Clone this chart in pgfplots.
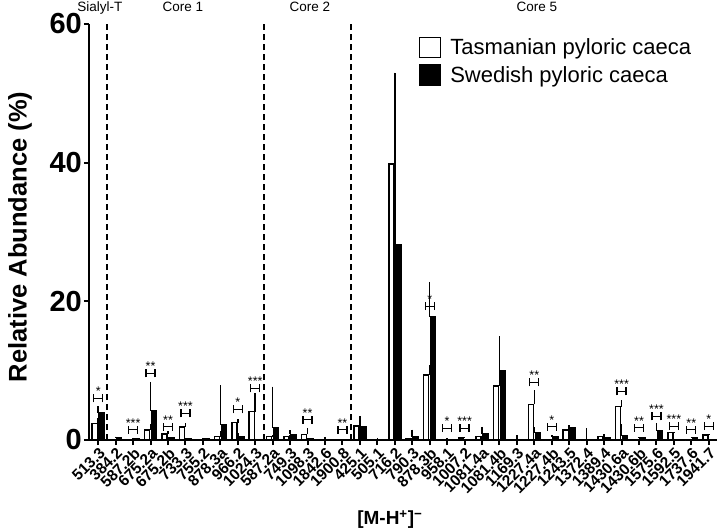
\documentclass[border=0pt]{standalone}
\usepackage{fontspec}
\setmainfont{Liberation Sans}
\usepackage{pgfplots}
\pgfplotsset{compat=1.18}
\usepackage{pgfplotstable}

% x = category, w/we = Tasmanian mean/sd, b/be = Swedish mean/sd
\pgfplotstableread{
x w we b be
1 2.4 0.8 3.9 1.0
2 0.1 0.1 0.3 0.2
3 0.05 0 0.2 0.1
4 1.45 0.9 4.2 4.2
5 0.9 0.4 0.3 0.1
6 1.9 0.6 0.2 0.1
7 0.1 0.1 0.2 0.1
8 0.5 0.8 2.2 5.7
9 2.5 0.6 0.5 0.5
10 4.1 2.7 0.1 0.1
11 0.5 0.2 1.8 5.9
12 0.5 0.2 0.8 0.6
13 0.8 1.0 0.2 0.1
14 0 0 0.05 0.4
15 0.05 0 0.05 0
16 2.0 0.3 1.9 1.5
17 0.05 0 0.1 0.2
18 39.8 11.7 28.2 24.8
19 0.2 0.1 0.5 1.0
20 9.4 1.4 17.8 5.0
21 0.1 0.2 0 0
22 0.3 0.1 0 0
23 0.5 0.1 0.9 1.0
24 7.8 4.3 10.0 5.0
25 0.05 0.6 0.05 0.6
26 5.15 2.1 1.05 0.8
27 0 0 0.5 0.2
28 1.45 0.7 1.8 0.2
29 0 0.3 0.1 1.6
30 0.5 0.4 0.3 0.1
31 4.8 1.0 0.6 1.7
32 0 0 0.3 0.1
33 0 0 1.35 1.1
34 1.05 0.1 0.1 0
35 0 0 0.3 0.1
36 0.7 0.2 0 0
}\glycans

% significance bracket: category, height, stars
\newcommand{\sig}[3]{%
  \draw[line width=1.2pt]
    ([xshift=-4.5pt]axis cs:#1,#2) -- ([xshift=4.5pt]axis cs:#1,#2)
    ([xshift=-4.5pt,yshift=-4pt]axis cs:#1,#2) -- ([xshift=-4.5pt,yshift=4pt]axis cs:#1,#2)
    ([xshift=4.5pt,yshift=-4pt]axis cs:#1,#2) -- ([xshift=4.5pt,yshift=4pt]axis cs:#1,#2);
  \node[anchor=base, inner sep=0pt, yshift=2.5pt, font=\fontsize{12.5}{12.5}\selectfont] at (axis cs:#1,#2) {#3};
}

\begin{document}
\begin{tikzpicture}
\begin{axis}[
  scale only axis,
  width=628pt, height=416pt,
  xmin=0.47, xmax=36.47,
  ymin=0, ymax=60,
  ytick={0,20,40,60},
  xtick={1,...,36},
  xticklabels={513.3,384.2,587.2b,675.2a,675.2b,733.3,755.2,878.3a,966.2,1024.3,587.2a,749.3,1098.3,1842.6,1900.8,425.1,505.1,716.2,790.3,878.3b,958.1,1007.2,1081.4a,1081.4b,1169.3,1227.4a,1227.4b,1243.5,1372.4,1389.4,1430.6a,1430.6b,1575.6,1592.5,1737.6,1941.7},
  axis x line*=bottom, axis y line*=left,
  axis line style={line width=2.4pt},
  tick style={line width=2pt, black},
  major tick length=5pt,
  tick align=outside,
  /pgf/number format/assume math mode=true,
  yticklabel style={font=\bfseries\fontsize{29}{29}\selectfont, inner sep=2pt},
  xticklabel style={rotate=45, anchor=north east, inner sep=1pt, font=\bfseries\fontsize{15.5}{15.5}\selectfont},
  ylabel={Relative Abundance (\%)},
  ylabel style={font=\bfseries\fontsize{25.5}{25.5}\selectfont, at={(axis description cs:-0.11,0.488)}, anchor=center},
  xlabel={[M-H\textsuperscript{+}]\textsuperscript{−}},
  xlabel style={font=\bfseries\fontsize{19}{19}\selectfont, at={(axis description cs:0.479,-0.192)}, anchor=center},
  legend style={at={(0.52,0.975)}, anchor=north west, draw=none, fill=none,
    font=\fontsize{22}{26}\selectfont, row sep=6pt,
    nodes={inner xsep=9pt}},
  legend cell align=left,
  clip=false,
]
\addplot[ybar, bar width=0.29, bar shift=-0.2, fill=white, draw=black, line width=1.5pt,
  legend image code/.code={\draw[fill=white, draw=black, line width=1.5pt] (0pt,-10pt) rectangle (21pt,10pt);},
  error bars/.cd, y dir=plus, y explicit, error mark=none, error bar style={line width=1.6pt}]
  table[x=x, y=w, y error=we] {\glycans};
\addlegendentry{Tasmanian pyloric caeca}
\addplot[ybar, bar width=0.29, bar shift=0.2, fill=black, draw=black, line width=1.5pt,
  legend image code/.code={\draw[fill=black, draw=black, line width=1.5pt] (0pt,-10pt) rectangle (21pt,10pt);},
  error bars/.cd, y dir=plus, y explicit, error mark=none, error bar style={line width=1.6pt}]
  table[x=x, y=b, y error=be] {\glycans};
\addlegendentry{Swedish pyloric caeca}

\draw[line width=2.2pt, dash pattern=on 6pt off 4pt] (axis cs:1.5,0) -- (axis cs:1.5,60);
\draw[line width=2.2pt, dash pattern=on 6pt off 4pt] (axis cs:10.5,0) -- (axis cs:10.5,60);
\draw[line width=2.2pt, dash pattern=on 6pt off 4pt] (axis cs:15.5,0) -- (axis cs:15.5,60);

\node[anchor=base, font=\fontsize{13.5}{13.5}\selectfont] at (axis cs:1.1,61.8) {Sialyl-T};
\node[anchor=base, font=\fontsize{13.5}{13.5}\selectfont] at (axis cs:5.85,61.8) {Core 1};
\node[anchor=base, font=\fontsize{13.5}{13.5}\selectfont] at (axis cs:13.13,61.8) {Core 2};
\node[anchor=base, font=\fontsize{13.5}{13.5}\selectfont] at (axis cs:26.14,61.8) {Core 5};

\sig{1}{6.0}{*}
\sig{3}{1.5}{***}
\sig{4}{9.6}{**}
\sig{5}{1.9}{**}
\sig{6}{3.85}{***}
\sig{9}{4.4}{*}
\sig{10}{7.45}{***}
\sig{13}{2.9}{**}
\sig{15}{1.5}{**}
\sig{20}{19.3}{*}
\sig{21}{1.7}{*}
\sig{22}{1.7}{***}
\sig{26}{8.3}{**}
\sig{27}{1.9}{*}
\sig{31}{7.0}{***}
\sig{32}{1.8}{**}
\sig{33}{3.4}{***}
\sig{34}{2.0}{***}
\sig{35}{1.5}{**}
\sig{36}{2.0}{*}
\end{axis}
\pgfresetboundingbox
\path[use as bounding box] (-89pt,-91pt) rectangle (631pt,440pt);
\end{tikzpicture}
\end{document}
